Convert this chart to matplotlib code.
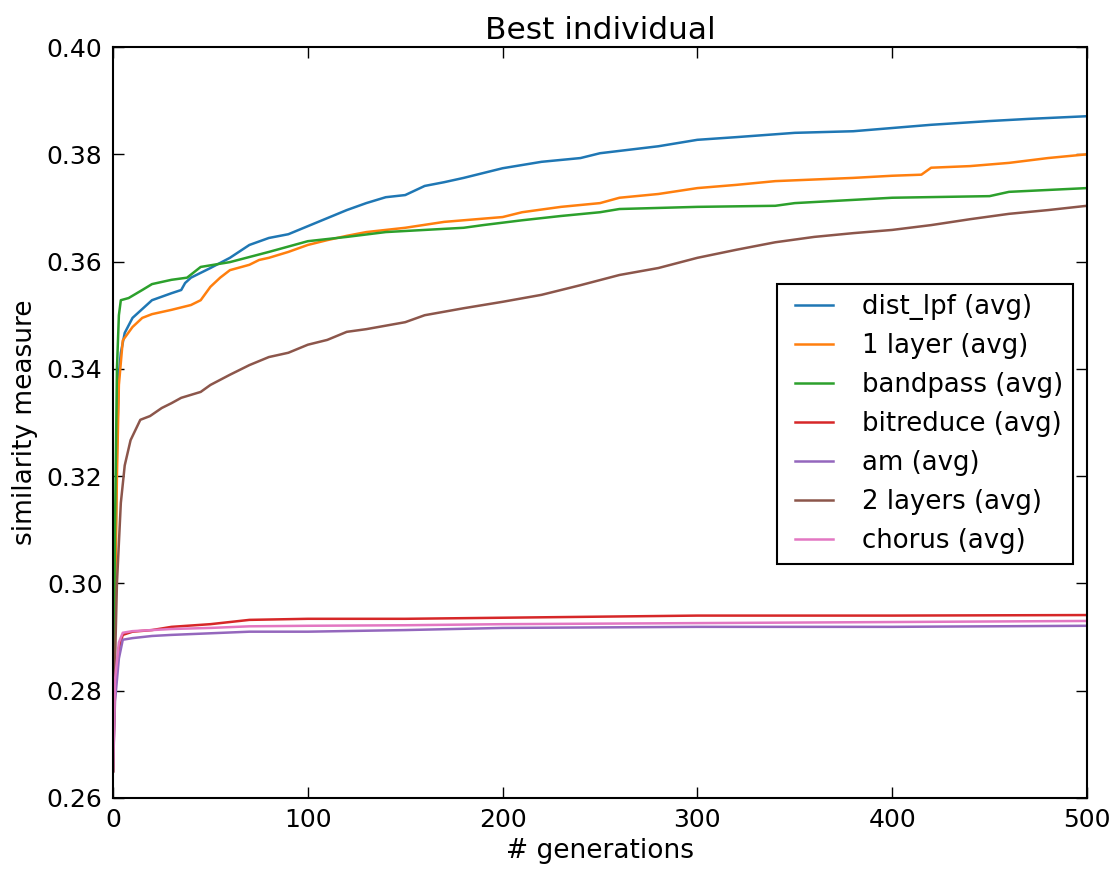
import matplotlib.pyplot as plt

gen_lpf = [0, 1, 2, 3, 4, 6, 10, 20, 30, 35, 37, 40, 50, 60, 70, 80, 90, 100, 110, 120, 130, 140,
           150, 160, 170, 180, 200, 220, 240, 250, 280, 300, 320, 350, 380, 400, 420, 450, 470, 500]
dist_lpf = [0.265, 0.30, 0.325, 0.339, 0.343, 0.3467, 0.3495, 0.3528, 0.3541, 0.3547, 0.356, 0.357,
            0.3588, 0.3607, 0.3631, 0.3644, 0.3651, 0.3666, 0.3681, 0.3696, 0.3709, 0.372, 0.3724,
            0.3741, 0.3748, 0.3756, 0.3774, 0.3786, 0.3793, 0.3802, 0.3815, 0.3827, 0.3832, 0.384,
            0.3843, 0.3849, 0.3855, 0.3862, 0.3866, 0.3871]

gen_1l = [0, 1, 2, 3, 5, 10, 15, 20, 30, 40, 45, 50, 55, 60, 70, 75, 80, 90, 100, 110, 120, 130,
          150, 170, 200, 210, 230, 250, 260, 280, 300, 320, 340, 360, 380, 400, 415, 420, 440, 460,
          480, 500]
layer1 = [0.265, 0.295, 0.32, 0.337, 0.3453, 0.3478, 0.3495, 0.3502, 0.351, 0.3519, 0.3528, 0.3553,
          0.357, 0.3584, 0.3594, 0.3603, 0.3607, 0.3618, 0.3631, 0.364, 0.3648, 0.3655, 0.3663,
          0.3674, 0.3683, 0.3692, 0.3702, 0.3709, 0.3719, 0.3726, 0.3737, 0.3743, 0.375, 0.3753,
          0.3756, 0.376, 0.3762, 0.3775, 0.3778, 0.3784, 0.3793, 0.380]

gen_bp = [0, 1, 2, 3, 4, 8, 15, 20, 30, 38, 45, 60, 80, 100, 120, 140, 160, 180, 190, 210, 230,
          250, 260, 300, 340, 350, 400, 450, 460, 500]
bandpass = [0.265, 0.31, 0.34, 0.35, 0.3528, 0.3532, 0.3547, 0.3558, 0.3566, 0.357, 0.359, 0.3599,
            0.3618, 0.3638, 0.3646, 0.3655, 0.3659, 0.3663, 0.3668, 0.3677, 0.3685, 0.3692, 0.3698,
            0.3702, 0.3704, 0.3709, 0.3719, 0.3722, 0.373, 0.3737]

gen_2l = [0, 1, 2, 4, 6, 9, 14, 19, 25, 30, 35, 45, 50, 60, 70, 80, 90, 100, 110, 120, 130, 150,
          160, 180, 200, 220, 240, 260, 280, 300, 320, 340, 360, 380, 400, 420, 440, 460, 480, 500]
layer2 = [0.265, 0.285, 0.30, 0.315, 0.322, 0.3267, 0.3305, 0.3312, 0.3327, 0.3336, 0.3346, 0.3357,
          0.337, 0.3389, 0.3407, 0.3422, 0.343, 0.3445, 0.3454, 0.3469, 0.3474, 0.3487, 0.350,
          0.3513, 0.3525, 0.3538, 0.3556, 0.3575, 0.3588, 0.3607, 0.3622, 0.3636, 0.3646, 0.3653,
          0.3659, 0.3668, 0.3679, 0.3689, 0.3696, 0.3704]

gen_low = [0, 1, 3, 5, 10, 20, 30, 50, 70, 100, 150, 200, 300, 400, 500]
bitreduce = [0.265, 0.280, 0.288, 0.2904, 0.291, 0.2913, 0.2919, 0.2924, 0.2932, 0.2934, 0.2934,
             0.2936, 0.294, 0.294, 0.2941]
chorus = [0.265, 0.282, 0.289, 0.2908, 0.2911, 0.2913, 0.2915, 0.2917, 0.2920, 0.2921, 0.2922,
          0.2924, 0.2926, 0.2928, 0.293]
am = [0.265, 0.278, 0.286, 0.2895, 0.2898, 0.2902, 0.2904, 0.2907, 0.291, 0.291, 0.2913, 0.2917,
      0.2919, 0.2919, 0.2921]

fig = plt.figure(figsize=(11.17, 8.74), dpi=100)
ax = fig.add_axes([0.1012, 0.087, 0.8719, 0.8592])

ax.plot(gen_lpf, dist_lpf, color='#1f77b4', lw=1.8, label='dist_lpf (avg)')
ax.plot(gen_1l, layer1, color='#ff7f0e', lw=1.8, label='1 layer (avg)')
ax.plot(gen_bp, bandpass, color='#2ca02c', lw=1.8, label='bandpass (avg)')
ax.plot(gen_low, bitreduce, color='#d62728', lw=1.8, label='bitreduce (avg)')
ax.plot(gen_low, am, color='#9467bd', lw=1.8, label='am (avg)')
ax.plot(gen_2l, layer2, color='#8c564b', lw=1.8, label='2 layers (avg)')
ax.plot(gen_low, chorus, color='#e377c2', lw=1.8, label='chorus (avg)')

ax.set_xlim(0, 500)
ax.set_ylim(0.26, 0.40)
ax.set_xticks([0, 100, 200, 300, 400, 500])
ax.set_yticks([0.26, 0.28, 0.30, 0.32, 0.34, 0.36, 0.38, 0.40])
ax.set_yticklabels(['0.26', '0.28', '0.30', '0.32', '0.34', '0.36', '0.38', '0.40'])
ax.tick_params(direction='in', top=True, right=True, length=8, width=1, labelsize=18, pad=7.5)
for s in ax.spines.values():
    s.set_linewidth(1.5)

ax.set_xlabel('# generations', fontsize=19, labelpad=4)
ax.set_ylabel('similarity measure', fontsize=19, labelpad=6)
ax.set_title('Best individual', fontsize=22.5, pad=6)

leg = ax.legend(loc='upper left', bbox_to_anchor=(0.682, 0.684), fontsize=18.7, fancybox=False,
                framealpha=1, edgecolor='black', numpoints=2, handlelength=2.06,
                handletextpad=0.82, labelspacing=0.5, borderpad=0.38, borderaxespad=0)
leg.get_frame().set_linewidth(1.5)

fig.savefig('out.png', dpi=100)
